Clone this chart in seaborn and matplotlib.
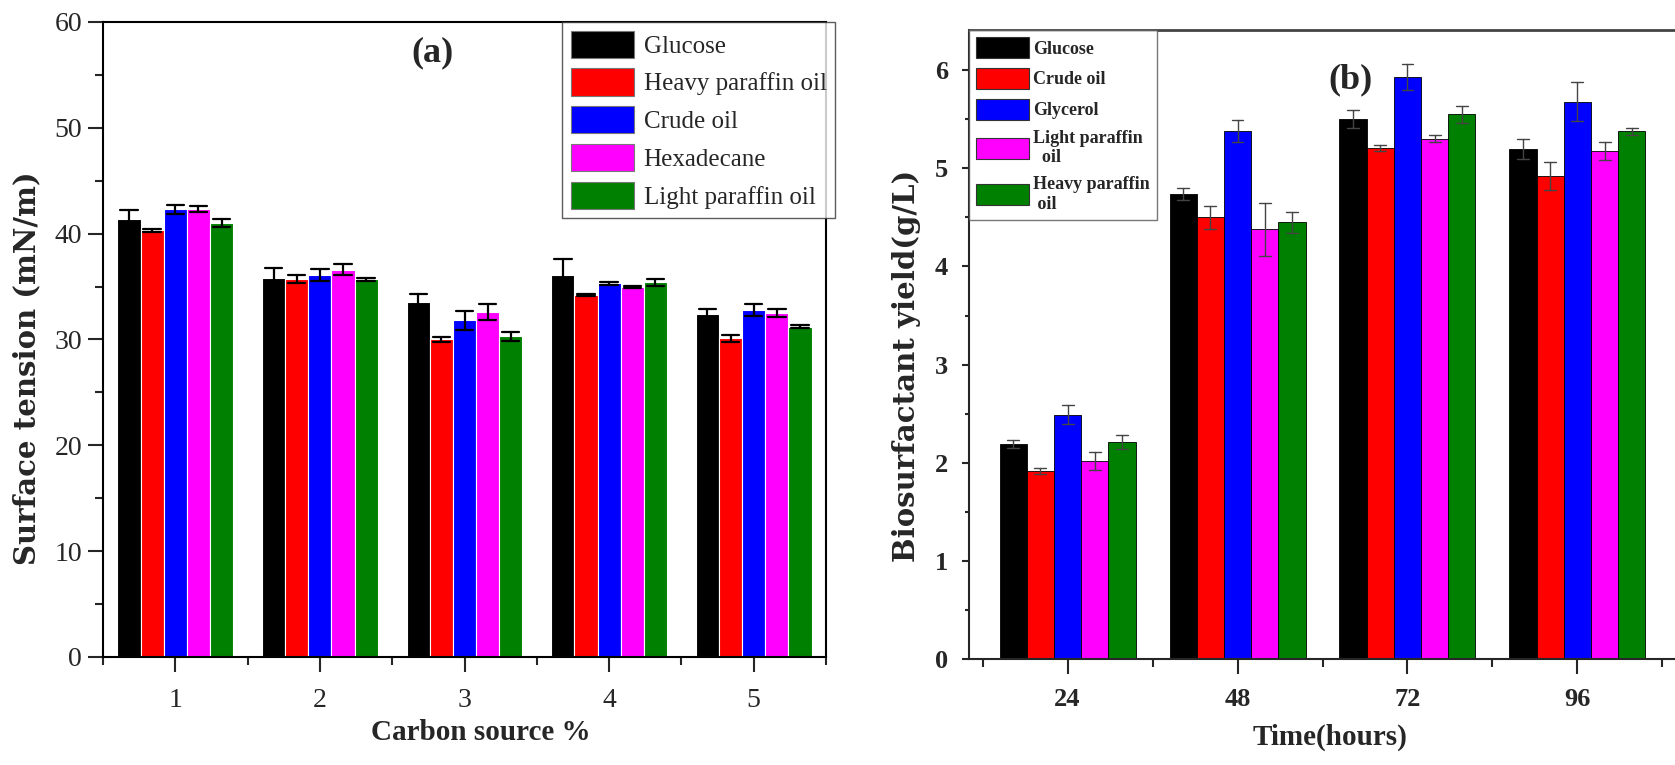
import numpy as np
import pandas as pd
import matplotlib
matplotlib.use('Agg')
import matplotlib.pyplot as plt
import seaborn as sns
from matplotlib.ticker import MultipleLocator
from matplotlib.patches import Patch

# ---------------- data: panel (a) ----------------
carbon_pct = ['1', '2', '3', '4', '5']
series_a = ['Glucose', 'Heavy paraffin oil', 'Crude oil', 'Hexadecane', 'Light paraffin oil']
tension_glucose = [41.4, 35.8, 33.5, 36.1, 32.4]
tension_heavy = [40.3, 35.7, 30.0, 34.2, 30.1]
tension_crude = [42.3, 36.1, 31.8, 35.3, 32.8]
tension_hexadecane = [42.3, 36.6, 32.6, 35.0, 32.5]
tension_light = [41.0, 35.7, 30.3, 35.4, 31.2]
err_glucose = [0.8, 1.0, 0.8, 1.5, 0.45]
err_heavy = [0.15, 0.4, 0.25, 0.1, 0.3]
err_crude = [0.45, 0.55, 0.9, 0.15, 0.6]
err_hexadecane = [0.3, 0.55, 0.75, 0.1, 0.35]
err_light = [0.4, 0.15, 0.4, 0.35, 0.15]

# ---------------- data: panel (b) ----------------
hours = ['24', '48', '72', '96']
series_b = ['Glucose', 'Crude oil', 'Glycerol', 'Light paraffin oil', 'Heavy paraffin oil']
legend_b = ['Glucose', 'Crude oil', 'Glycerol', 'Light paraffin\n  oil', 'Heavy paraffin\n oil']
yield_glucose = [2.19, 4.74, 5.50, 5.20]
yield_crude = [1.92, 4.50, 5.21, 4.92]
yield_glycerol = [2.49, 5.38, 5.93, 5.68]
yield_light = [2.02, 4.38, 5.30, 5.18]
yield_heavy = [2.21, 4.45, 5.55, 5.38]
yerr_glucose = [0.04, 0.06, 0.09, 0.10]
yerr_crude = [0.03, 0.12, 0.03, 0.14]
yerr_glycerol = [0.10, 0.11, 0.13, 0.20]
yerr_light = [0.09, 0.27, 0.035, 0.09]
yerr_heavy = [0.07, 0.11, 0.085, 0.035]

colors = ['#000000', '#ff0000', '#0000ff', '#ff00ff', '#008000']


def long_table(cats, names, vals, errs):
    rows = []
    for name, v, e in zip(names, vals, errs):
        for c, vi, ei in zip(cats, v, e):
            rows.append((c, name, vi - ei))
            rows.append((c, name, vi + ei))
    return pd.DataFrame(rows, columns=['cat', 'series', 'value'])


df_a = long_table(carbon_pct, series_a,
                  [tension_glucose, tension_heavy, tension_crude, tension_hexadecane, tension_light],
                  [err_glucose, err_heavy, err_crude, err_hexadecane, err_light])
df_b = long_table(hours, series_b,
                  [yield_glucose, yield_crude, yield_glycerol, yield_light, yield_heavy],
                  [yerr_glucose, yerr_crude, yerr_glycerol, yerr_light, yerr_heavy])

sns.set_theme(style='ticks')
plt.rcParams['font.family'] = ['Liberation Serif', 'DejaVu Serif']
plt.rcParams['axes.linewidth'] = 1.5

fig = plt.figure(figsize=(16.75, 7.65), dpi=100)
ax1 = fig.add_axes([103 / 1675, 1 - 657 / 765, 723 / 1675, 635 / 765])
ax2 = fig.add_axes([969 / 1675, 1 - 659 / 765, 707 / 1675, 629 / 765])

minmax = lambda x: (x.min(), x.max())

# ---------------- panel (a) ----------------
sns.barplot(data=df_a, x='cat', y='value', hue='series', hue_order=series_a,
            order=carbon_pct, palette=colors, estimator='mean', errorbar=minmax,
            capsize=0.6, err_kws={'color': 'black', 'linewidth': 1.6},
            edgecolor='white', linewidth=0.8, saturation=1, width=0.8, ax=ax1)
ax1.set_xlim(-0.5, 4.5)
ax1.set_ylim(0, 60)
ax1.yaxis.set_major_locator(MultipleLocator(10))
ax1.yaxis.set_minor_locator(MultipleLocator(5))
ax1.set_xticks(np.arange(-0.5, 5, 1.0), minor=True)
ax1.tick_params(axis='both', which='major', direction='out', length=11, width=1.5,
                labelsize=20, pad=4)
ax1.tick_params(axis='both', which='minor', direction='out', length=6, width=1.5)
ax1.tick_params(axis='x', which='major', pad=11)
for lab in ax1.get_xticklabels() + ax1.get_yticklabels():
    lab.set_fontfamily('Liberation Serif')
ax1.set_xlabel('Carbon source %', fontsize=21, fontweight='bold', family='Liberation Serif')
ax1.set_ylabel('Surface tension (mN/m)', fontsize=21, fontweight='bold', family='DejaVu Serif')
ax1.xaxis.set_label_coords(0.523, -0.097)
ax1.yaxis.set_label_coords(-0.085, 0.455)
ax1.text(0.456, 0.951, '(a)', transform=ax1.transAxes, ha='center', va='center',
         fontsize=26, fontweight='bold', family='Liberation Serif')
handles_a = [Patch(facecolor=c, edgecolor='#777777', linewidth=0.8) for c in colors]
leg1 = ax1.legend(handles_a, series_a, loc='upper right', bbox_to_anchor=(1.013, 1.0),
                  borderaxespad=0, frameon=True, fancybox=False, edgecolor='#333333',
                  prop={'family': 'Liberation Serif', 'size': 18}, handlelength=2.5,
                  handleheight=1.3, handletextpad=0.4, labelspacing=0.42,
                  borderpad=0.35)
leg1.get_frame().set_linewidth(1.0)
for s in ['top', 'right', 'left', 'bottom']:
    ax1.spines[s].set_color('black')

# ---------------- panel (b) ----------------
sns.barplot(data=df_b, x='cat', y='value', hue='series', hue_order=series_b,
            order=hours, palette=colors, estimator='mean', errorbar=minmax,
            capsize=0.35, err_kws={'color': '#444444', 'linewidth': 1.0},
            edgecolor='black', linewidth=0.6, saturation=1, width=0.8, ax=ax2)
ax2.set_xlim(-0.58, 3.58)
ax2.set_ylim(0, 6.41)
ax2.yaxis.set_major_locator(MultipleLocator(1))
ax2.yaxis.set_minor_locator(MultipleLocator(0.5))
ax2.set_xticks(np.arange(-0.5, 4, 1.0), minor=True)
ax2.tick_params(axis='y', which='major', direction='out', length=5, width=1.5,
                labelsize=19, pad=10)
ax2.tick_params(axis='y', which='minor', direction='out', length=3, width=1.5)
ax2.tick_params(axis='x', which='major', direction='out', length=11, width=1.5,
                labelsize=19, pad=10)
ax2.tick_params(axis='x', which='minor', direction='out', length=6, width=1.5)
for lab in ax2.get_xticklabels() + ax2.get_yticklabels():
    lab.set_fontfamily('Liberation Serif')
    lab.set_fontweight('bold')
ax2.set_xlabel('Time(hours)', fontsize=21, fontweight='bold', family='Liberation Serif')
ax2.set_ylabel('Biosurfactant yield(g/L)', fontsize=21, fontweight='bold', family='DejaVu Serif')
ax2.xaxis.set_label_coords(0.511, -0.103)
ax2.yaxis.set_label_coords(-0.068, 0.466)
ax2.text(0.540, 0.9205, '(b)', transform=ax2.transAxes, ha='center', va='center',
         fontsize=26, fontweight='bold', family='Liberation Serif')
handles_b = [Patch(facecolor=c, edgecolor='#333333', linewidth=0.8) for c in colors]
leg2 = ax2.legend(handles_b, legend_b, loc='upper left', bbox_to_anchor=(0.0, 1.0),
                  borderaxespad=0, frameon=True, fancybox=False, edgecolor='#555555',
                  prop={'family': 'Liberation Serif', 'size': 13, 'weight': 'bold'},
                  handlelength=2.9, handleheight=1.4, handletextpad=0.25,
                  labelspacing=0.55, borderpad=0.4)
leg2.get_frame().set_linewidth(1.0)
ax2.spines['top'].set_color('#444444')
ax2.spines['top'].set_linewidth(2.0)
ax2.spines['right'].set_visible(False)

fig.savefig('out.png', dpi=100, facecolor='white')
